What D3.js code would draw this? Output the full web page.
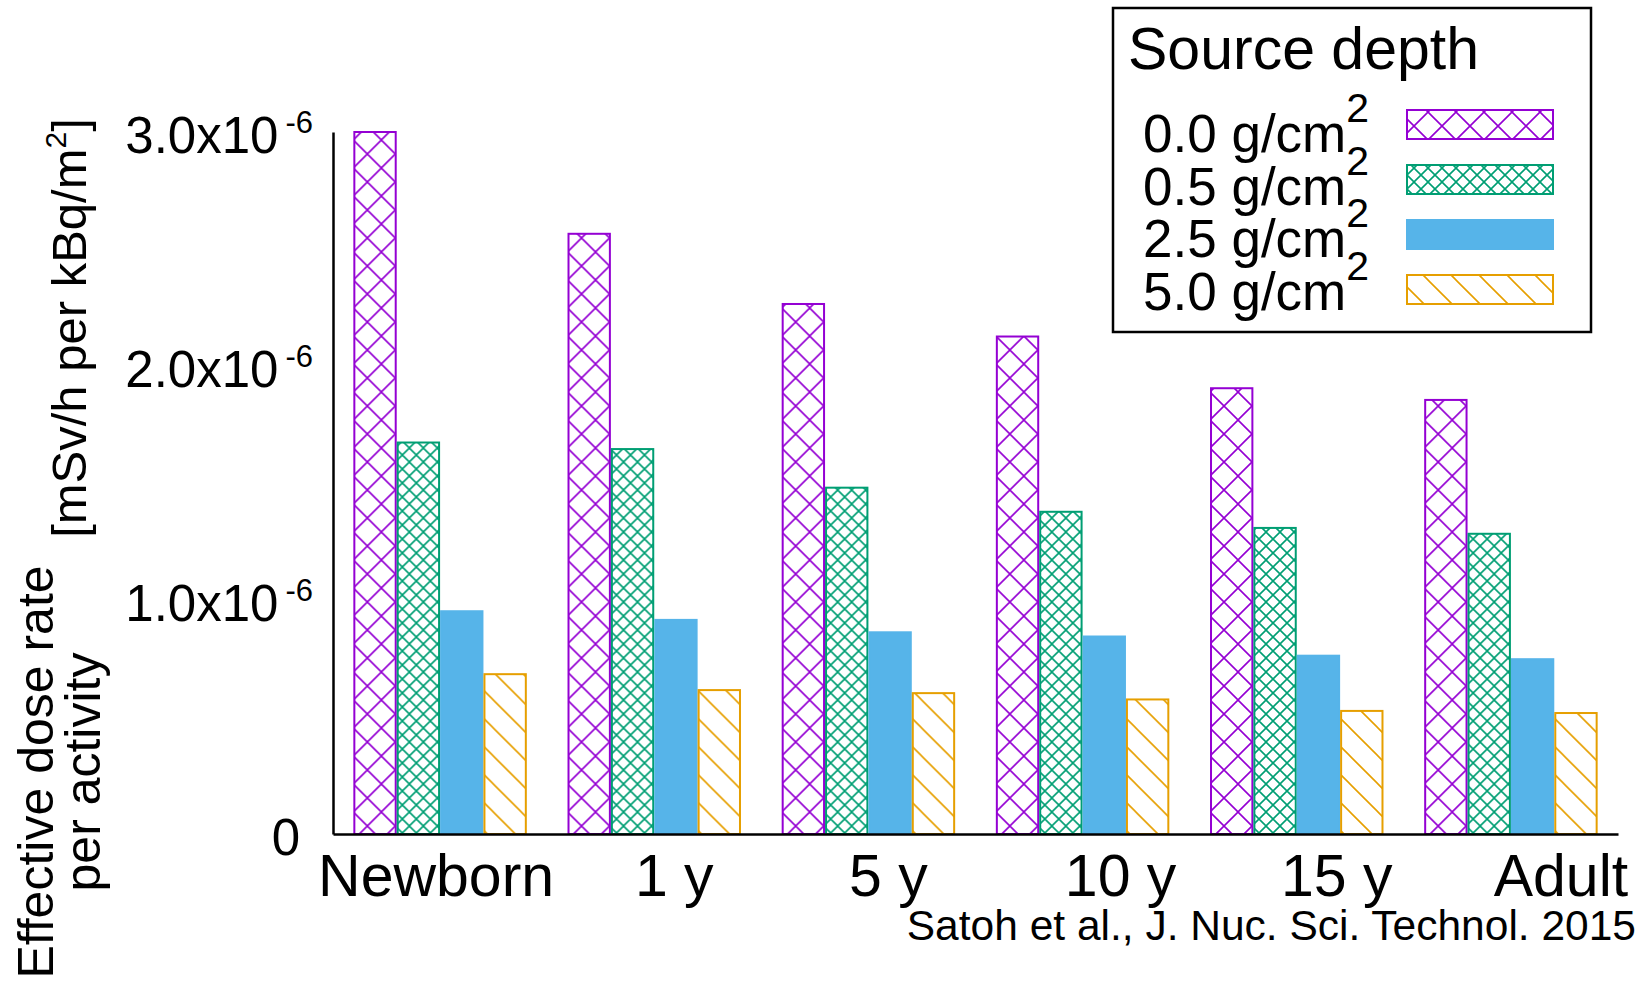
<!DOCTYPE html>
<html>
<head>
<meta charset="utf-8">
<script src="https://cdn.jsdelivr.net/npm/d3@7"></script>
<style>
  html, body { margin: 0; padding: 0; background: #fff; }
  svg { display: block; font-family: "Liberation Sans", Arial, sans-serif; }
</style>
</head>
<body>
<svg id="chart" width="1644" height="984"></svg>
<script>
// ----- data -----
const categories = ["Newborn", "1 y", "5 y", "10 y", "15 y", "Adult"];
const depths = ["0.0", "0.5", "2.5", "5.0"];

// effective dose rate per activity, mSv/h per kBq/m2
const dose00 = [3.00e-6, 2.565e-6, 2.265e-6, 2.126e-6, 1.905e-6, 1.855e-6];
const dose05 = [1.673e-6, 1.645e-6, 1.480e-6, 1.377e-6, 1.308e-6, 1.283e-6];
const dose25 = [0.952e-6, 0.915e-6, 0.862e-6, 0.844e-6, 0.762e-6, 0.747e-6];
const dose50 = [0.683e-6, 0.615e-6, 0.602e-6, 0.575e-6, 0.526e-6, 0.517e-6];

const yTicks = [0, 1e-6, 2e-6, 3e-6];
const yTickMain = ["0", "1.0x10", "2.0x10", "3.0x10"];
const yTickExp = ["", "-6", "-6", "-6"];

const series = [dose00, dose05, dose25, dose50];

// ----- look -----
const colors = ["#9400D3", "#009E73", "#56B4E9", "#E69F00"];
const fills = ["url(#hatchWide)", "url(#hatchFine)", "#56B4E9", "url(#hatchDiag)"];
// category labels sit a bit right of the group centres in the original
const labelNudge = [-4, 20, 20, 38, 40, 50];

const svg = d3.select("#chart");

// patterns
const defs = svg.append("defs");

function crossPattern(id, size, color, sw) {
    const p = defs.append("pattern")
        .attr("id", id)
        .attr("patternUnits", "userSpaceOnUse")
        .attr("width", size)
        .attr("height", size);
    p.append("path")
        .attr("d", `M0,0 L${size},${size} M0,${size} L${size},0`)
        .attr("stroke", color)
        .attr("stroke-width", sw)
        .attr("fill", "none");
}

crossPattern("hatchWide", 28, colors[0], 1.6);
crossPattern("hatchFine", 14, colors[1], 1.6);

const diag = defs.append("pattern")
    .attr("id", "hatchDiag")
    .attr("patternUnits", "userSpaceOnUse")
    .attr("width", 28)
    .attr("height", 28);
diag.append("path")
    .attr("d", "M0,0 L28,28 M-7,21 L7,35 M21,-7 L35,7")
    .attr("stroke", colors[3])
    .attr("stroke-width", 1.6)
    .attr("fill", "none");

// scales
const x0 = d3.scaleBand()
    .domain(categories)
    .range([333, 1618])
    .paddingInner(0.19)
    .paddingOuter(0.095);

const x1 = d3.scaleBand()
    .domain(depths)
    .range([0, x0.bandwidth()]);

const y = d3.scaleLinear()
    .domain([0, 3e-6])
    .range([834, 132]);

// bars
const groups = svg.append("g")
    .selectAll("g")
    .data(categories)
    .join("g")
    .attr("transform", d => `translate(${x0(d)},0)`);

groups.selectAll("rect")
    .data((c, i) => depths.map((dep, k) => ({ dep, k, v: series[k][i] })))
    .join("rect")
    .attr("x", d => x1(d.dep) + 1)
    .attr("y", d => y(d.v))
    .attr("width", x1.bandwidth() - 2)
    .attr("height", d => y(0) - y(d.v))
    .attr("fill", d => fills[d.k])
    .attr("stroke", d => colors[d.k])
    .attr("stroke-width", 2);

// y axis
const yAxis = svg.append("g")
    .attr("transform", "translate(333,0)")
    .call(d3.axisLeft(y).tickValues(yTicks).tickSize(0).tickSizeOuter(0).tickFormat(""));

yAxis.select(".domain").attr("stroke", "#000").attr("stroke-width", 2.5);

yAxis.selectAll(".tick text").each(function (d, i) {
    const t = d3.select(this)
        .attr("x", yTickExp[i] ? -20 : -33)
        .attr("dy", null)
        .attr("y", 20)
        .attr("fill", "#000")
        .style("font-size", "51px")
        .attr("text-anchor", "end");
    t.append("tspan").text(yTickMain[i]);
    if (yTickExp[i]) {
        t.append("tspan")
            .attr("dx", 7)
            .attr("dy", -20)
            .style("font-size", "31px")
            .text(yTickExp[i]);
    }
});

// x axis
const xAxis = svg.append("g")
    .attr("transform", "translate(0,834)")
    .call(d3.axisBottom(x0).tickSize(0).tickSizeOuter(0));

xAxis.select(".domain").attr("stroke", "#000").attr("stroke-width", 2.5);

xAxis.selectAll(".tick text")
    .attr("y", 62)
    .attr("dy", null)
    .attr("dx", (d, i) => labelNudge[i])
    .attr("fill", "#000")
    .style("font-size", "59px");

// y axis title
svg.append("text")
    .attr("transform", "translate(53,772) rotate(-90)")
    .attr("text-anchor", "middle")
    .style("font-size", "50px")
    .text("Effective dose rate");

svg.append("text")
    .attr("transform", "translate(100,772) rotate(-90)")
    .attr("text-anchor", "middle")
    .style("font-size", "50px")
    .text("per activity");

const unit = svg.append("text")
    .attr("transform", "translate(86,328) rotate(-90)")
    .attr("text-anchor", "middle")
    .style("font-size", "49px");
unit.append("tspan").text("[mSv/h per kBq/m");
unit.append("tspan").attr("dy", -20).style("font-size", "30px").text("2");
unit.append("tspan").attr("dy", 20).text("]");

// legend
const legend = svg.append("g");

legend.append("rect")
    .attr("x", 1113)
    .attr("y", 8)
    .attr("width", 478)
    .attr("height", 324)
    .attr("fill", "#fff")
    .attr("stroke", "#000")
    .attr("stroke-width", 2.5);

legend.append("text")
    .attr("x", 1128)
    .attr("y", 69)
    .style("font-size", "59px")
    .text("Source depth");

legend.selectAll("rect.key")
    .data(depths)
    .join("rect")
    .attr("class", "key")
    .attr("x", 1407)
    .attr("y", (d, i) => 110 + i * 55)
    .attr("width", 146)
    .attr("height", 29)
    .attr("fill", (d, i) => fills[i])
    .attr("stroke", (d, i) => colors[i])
    .attr("stroke-width", 2);

legend.selectAll("text.entry")
    .data(depths)
    .join("text")
    .attr("class", "entry")
    .attr("x", 1143)
    .attr("y", (d, i) => 152 + i * 52.7)
    .style("font-size", "53px")
    .each(function (d) {
        const t = d3.select(this);
        t.append("tspan").text(`${d} g/cm`);
        t.append("tspan").attr("dy", -30).style("font-size", "41px").text("2");
    });

// source note
svg.append("text")
    .attr("x", 1636)
    .attr("y", 940)
    .attr("text-anchor", "end")
    .style("font-size", "42.5px")
    .text("Satoh et al., J. Nuc. Sci. Technol. 2015");
</script>
</body>
</html>
